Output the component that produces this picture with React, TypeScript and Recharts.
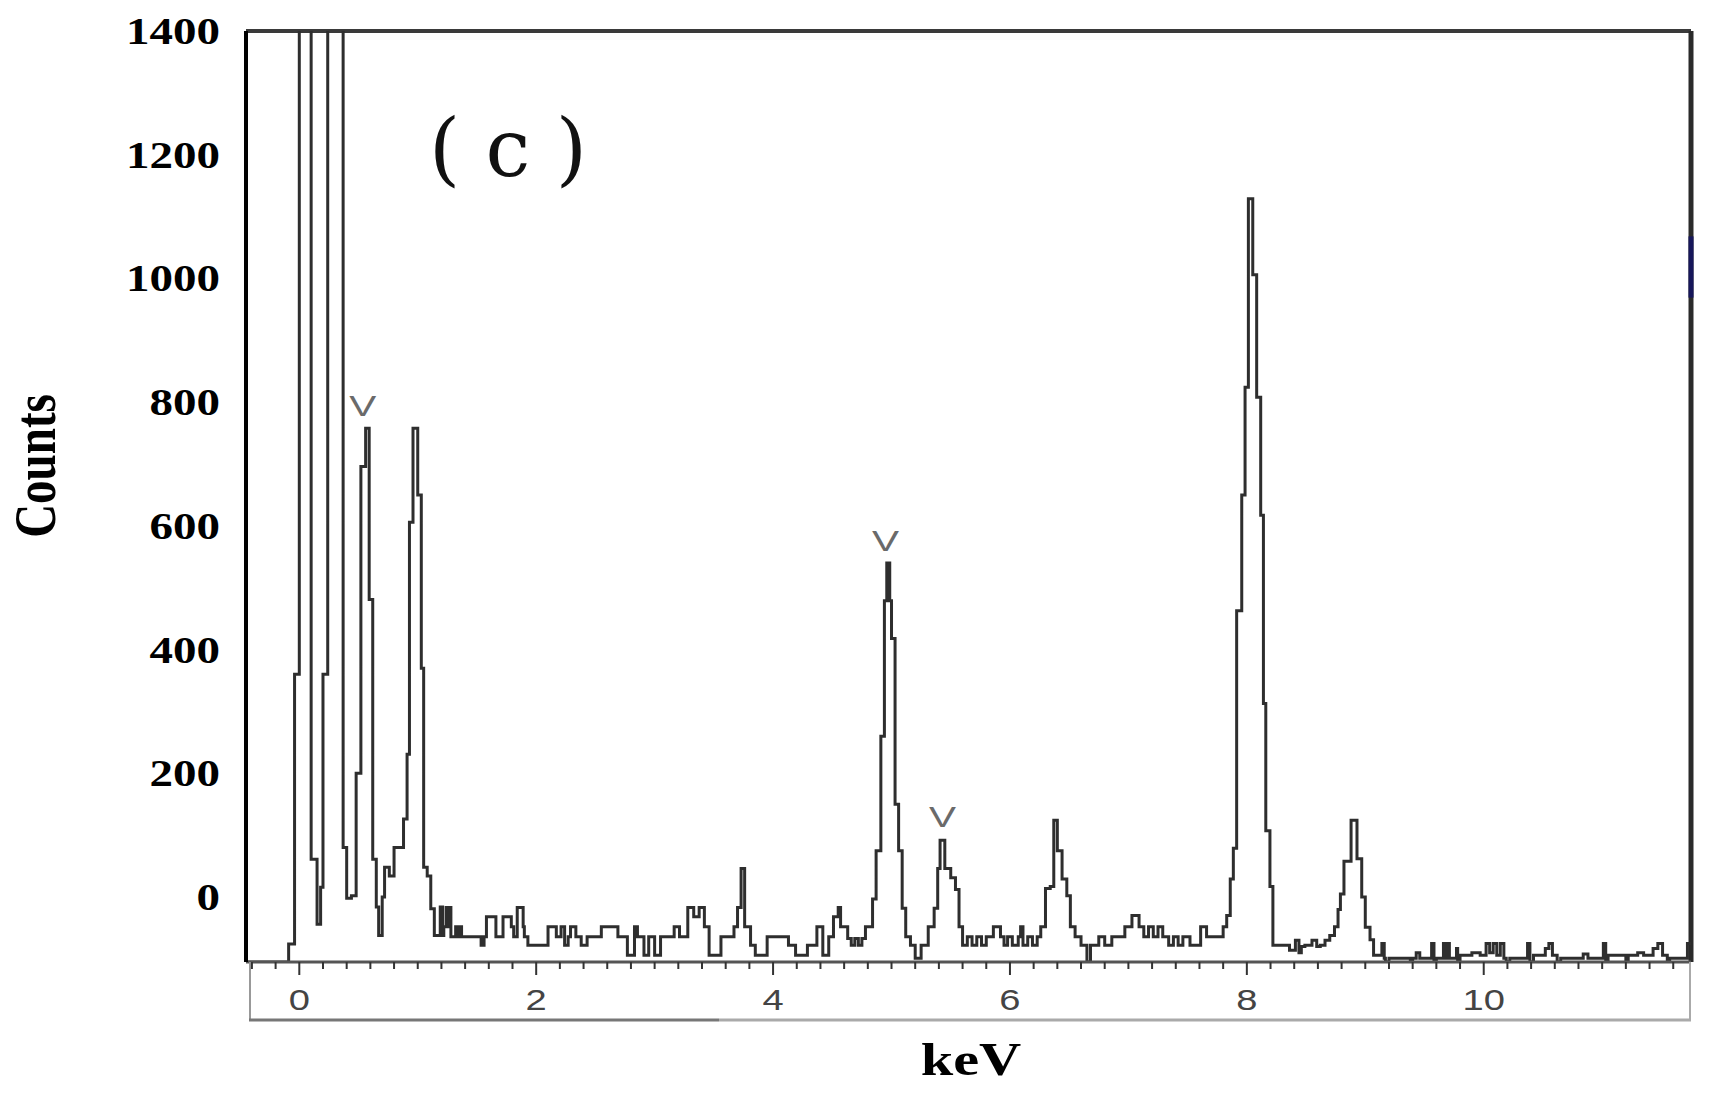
import React from 'react';
import { LineChart, Line, XAxis, YAxis, ReferenceLine, ReferenceDot, Label } from 'recharts';

// EDS spectrum: energy (keV) where the step starts, counts of that step
const energyKeV = [
  -0.45, -0.09, -0.04, 0.0, 0.1, 0.15, 0.18, 0.2, 0.24, 0.37, 0.4, 0.44, 0.48, 0.52, 0.56, 0.59,
  0.62, 0.65, 0.67, 0.7, 0.72, 0.76, 0.8, 0.88, 0.91, 0.93, 0.96, 1.0, 1.03, 1.05, 1.08, 1.11,
  1.14, 1.19, 1.21, 1.22, 1.24, 1.26, 1.27, 1.28, 1.32, 1.34, 1.35, 1.37, 1.535, 1.56, 1.58, 1.66,
  1.72, 1.79, 1.81, 1.84, 1.89, 1.9, 1.93, 2.1, 2.17, 2.21, 2.24, 2.27, 2.29, 2.335, 2.38, 2.43,
  2.55, 2.69, 2.77, 2.83, 2.855, 2.91, 2.95, 3.0, 3.05, 3.165, 3.21, 3.28, 3.33, 3.376, 3.42, 3.46,
  3.56, 3.67, 3.7, 3.73, 3.76, 3.81, 3.85, 3.95, 4.13, 4.19, 4.29, 4.37, 4.42, 4.47, 4.51, 4.55,
  4.57, 4.63, 4.66, 4.69, 4.72, 4.75, 4.78, 4.84, 4.87, 4.91, 4.94, 4.96, 4.985, 5.0, 5.03, 5.06,
  5.09, 5.12, 5.16, 5.2, 5.25, 5.31, 5.36, 5.39, 5.41, 5.45, 5.5, 5.54, 5.57, 5.6, 5.64, 5.68,
  5.72, 5.76, 5.8, 5.86, 5.92, 5.95, 5.98, 6.02, 6.07, 6.09, 6.11, 6.15, 6.19, 6.23, 6.26, 6.3,
  6.34, 6.37, 6.4, 6.44, 6.48, 6.51, 6.55, 6.6, 6.65, 6.68, 6.75, 6.8, 6.86, 6.97, 7.03, 7.09,
  7.13, 7.17, 7.21, 7.25, 7.29, 7.34, 7.38, 7.42, 7.46, 7.52, 7.61, 7.66, 7.8, 7.83, 7.86, 7.886,
  7.914, 7.957, 7.985, 8.013, 8.05, 8.083, 8.117, 8.14, 8.16, 8.195, 8.22, 8.32, 8.36, 8.41, 8.44, 8.46,
  8.49, 8.55, 8.59, 8.62, 8.66, 8.7, 8.74, 8.77, 8.79, 8.82, 8.88, 8.93, 8.97, 9.0, 9.04, 9.07,
  9.14, 9.16, 9.17, 9.2, 9.38, 9.4, 9.43, 9.46, 9.56, 9.58, 9.6, 9.66, 9.68, 9.69, 9.71, 9.77,
  9.78, 9.8, 9.9, 9.97, 10.02, 10.05, 10.08, 10.11, 10.14, 10.17, 10.19, 10.22, 10.37, 10.39, 10.42, 10.52,
  10.55, 10.58, 10.62, 10.65, 10.84, 10.88, 11.01, 11.03, 11.05, 11.2, 11.22, 11.3, 11.35, 11.43, 11.47, 11.51,
  11.55, 11.57, 11.72, 11.75,
];
const counts = [
  -105, -76, 360, 1500, 61, -44, 16, 360, 1500, 80, -2, 2, 200, 696, 758, 481,
  61, -16, -62, 0, 48, 34, 80, 126, 231, 606, 758, 650, 370, 48, 34, -19,
  -62, -16, -62, -48, -17, -48, -17, -64, -48, -64, -48, -64, -78, -64, -32, -64,
  -32, -48, -64, -17, -48, -64, -78, -48, -64, -48, -78, -64, -48, -64, -78, -64,
  -48, -64, -94, -48, -64, -94, -64, -94, -64, -48, -64, -17, -32, -17, -48, -94,
  -64, -48, -17, 46, -48, -78, -94, -64, -78, -94, -78, -48, -94, -64, -32, -17,
  -48, -67, -78, -67, -78, -67, -48, -3, 75, 260, 479, 540, 479, 418, 150, 75,
  -18, -64, -78, -99, -78, -48, -18, 46, 92, 46, 31, 12, -48, -78, -64, -78,
  -64, -78, -64, -48, -64, -78, -64, -78, -64, -48, -78, -64, -78, -64, -48, 14,
  17, 124, 75, 29, 2, -48, -64, -78, -105, -78, -64, -78, -64, -48, -30, -48,
  -64, -48, -64, -48, -64, -78, -64, -78, -64, -78, -48, -64, -48, -30, 29, 79,
  463, 650, 824, 1129, 1006, 808, 617, 313, 107, 17, -78, -78, -86, -70, -90, -80,
  -78, -70, -80, -78, -70, -62, -48, -20, 5, 58, 124, 62, 0, -49, -69, -94,
  -75, -99, -105, -99, -105, -99, -90, -99, -75, -105, -99, -75, -99, -75, -99, -83,
  -105, -94, -90, -94, -75, -90, -75, -94, -75, -99, -105, -99, -75, -105, -94, -83,
  -75, -94, -105, -99, -92, -99, -75, -105, -94, -105, -94, -90, -94, -83, -75, -94,
  -105, -99, -75, -75,
];

const yTicks = [0, 200, 400, 600, 800, 1000, 1200, 1400];
const xMajorTicks = [0, 2, 4, 6, 8, 10];
const xMinorTicks = [
  -0.4, -0.2, 0, 0.2, 0.4, 0.6, 0.8, 1, 1.2, 1.4, 1.6, 1.8, 2, 2.2, 2.4, 2.6, 2.8, 3, 3.2, 3.4,
  3.6, 3.8, 4, 4.2, 4.4, 4.6, 4.8, 5, 5.2, 5.4, 5.6, 5.8, 6, 6.2, 6.4, 6.6, 6.8, 7, 7.2, 7.4,
  7.6, 7.8, 8, 8.2, 8.4, 8.6, 8.8, 9, 9.2, 9.4, 9.6, 9.8, 10, 10.2, 10.4, 10.6, 10.8, 11, 11.2, 11.4,
  11.6,
];

// the "V" labels above the vanadium peaks
const markKeV = [0.535, 4.95, 5.43];
const markCounts = [777, 559, 113];
const markText = ['V', 'V', 'V'];

const spectrum = energyKeV.map((e, i) => ({ e, c: counts[i] }));

const SERIF = '"Liberation Serif", "Times New Roman", serif';
const SANS = '"Liberation Sans", Arial, sans-serif';
const STRETCH = 1.27;

function CountTick({ x, y, payload }: any) {
  return (
    <g transform={`translate(${x - 26},${y + 13})`}>
      <text transform={`scale(${STRETCH},1)`} textAnchor="end" fontFamily={SERIF} fontWeight="bold" fontSize={37} fill="#000">
        {payload.value}
      </text>
    </g>
  );
}

function KevTick({ x, y, payload }: any) {
  const major = xMajorTicks.includes(payload.value);
  return (
    <g>
      <line x1={x} y1={y} x2={x} y2={y + (major ? 13 : 7)} stroke="#333" strokeWidth={2} />
      {major && (
        <g transform={`translate(${x},${y + 48})`}>
          <text transform={`scale(${STRETCH},1)`} textAnchor="middle" fontFamily={SANS} fontSize={30} fill="#444">
            {payload.value}
          </text>
        </g>
      )}
    </g>
  );
}

function YTitle() {
  return (
    <g>
      <g transform={`translate(55,466) scale(${STRETCH},1) rotate(-90)`}>
        <text textAnchor="middle" fontFamily={SERIF} fontWeight="bold" fontSize={47} fill="#000">
          Counts
        </text>
      </g>
      <text x={508} y={176} textAnchor="middle" fontFamily='"DejaVu Serif", serif' fontSize={80} fill="#111">
        ( c )
      </text>
    </g>
  );
}

function XTitle() {
  return (
    <g>
      <line x1={250} y1={962} x2={250} y2={1021} stroke="#999" strokeWidth={2} />
      <line x1={1690} y1={962} x2={1690} y2={1021} stroke="#aaa" strokeWidth={2} />
      <line x1={249} y1={1020} x2={719} y2={1020} stroke="#777" strokeWidth={3} />
      <line x1={719} y1={1020} x2={1691} y2={1020} stroke="#aaa" strokeWidth={3} />
      <g transform={`translate(971,1075) scale(${STRETCH},1)`}>
        <text textAnchor="middle" fontFamily={SERIF} fontWeight="bold" fontSize={46} fill="#000">
          keV
        </text>
      </g>
    </g>
  );
}

function MarkLabel({ viewBox, value }: any) {
  const cx = viewBox.x + viewBox.width / 2;
  const cy = viewBox.y + viewBox.height / 2;
  return (
    <g transform={`translate(${cx},${cy}) scale(1.35,1)`}>
      <text textAnchor="middle" fontFamily={SANS} fontSize={30} fill="#6a6a6a">
        {value}
      </text>
    </g>
  );
}

export default function App() {
  return (
    <div style={{ position: 'absolute', left: 0, top: 0, width: 1722, height: 1102, background: '#fff' }}>
      <LineChart width={1722} height={1102} data={spectrum} margin={{ top: 31, right: 31, bottom: 0, left: 0 }}>
        <XAxis
          dataKey="e"
          type="number"
          domain={[-0.45, 11.75]}
          allowDataOverflow
          ticks={xMinorTicks}
          interval={0}
          tick={<KevTick />}
          tickLine={false}
          tickSize={0}
          tickMargin={0}
          height={140}
          axisLine={{ stroke: '#555', strokeWidth: 3 }}
          label={<Label content={<XTitle />} />}
        />
        <YAxis
          type="number"
          domain={[-105, 1400]}
          allowDataOverflow
          ticks={yTicks}
          interval={0}
          tick={<CountTick />}
          tickLine={false}
          tickSize={0}
          tickMargin={0}
          width={246}
          axisLine={{ stroke: '#000', strokeWidth: 4 }}
          label={<Label content={<YTitle />} />}
        />
        <ReferenceLine y={1400} stroke="#3a3a3a" strokeWidth={4} />
        <ReferenceLine x={11.75} stroke="#2a2a2a" strokeWidth={5} />
        <ReferenceLine
          segment={[{ x: 11.75, y: 969 }, { x: 11.75, y: 1068 }]}
          stroke="#16165a"
          strokeWidth={5}
        />
        <Line
          type="stepAfter"
          dataKey="c"
          stroke="#2e2e2e"
          strokeWidth={3}
          dot={false}
          activeDot={false}
          isAnimationActive={false}
        />
        {markKeV.map((e, i) => (
          <ReferenceDot
            key={`mark-${i}`}
            x={e}
            y={markCounts[i]}
            r={0}
            fill="none"
            stroke="none"
            label={<Label value={markText[i]} content={<MarkLabel />} />}
          />
        ))}
      </LineChart>
    </div>
  );
}
